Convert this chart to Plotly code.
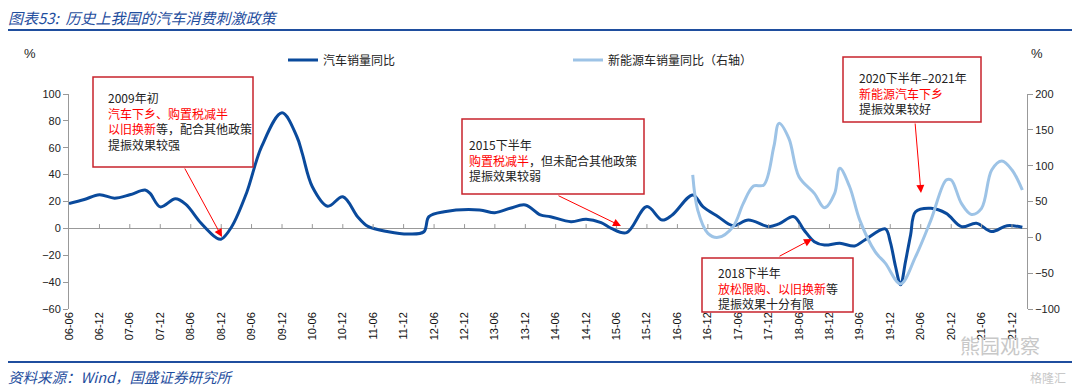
import plotly.graph_objects as go

# ---------------- data ----------------
car_dates = ["2006-06", "2006-09", "2006-12", "2007-03", "2007-06", "2007-09", "2007-10", "2007-12",
             "2008-03", "2008-05", "2008-08", "2008-11", "2008-12", "2009-02", "2009-05", "2009-08",
             "2009-12", "2010-03", "2010-04", "2010-06", "2010-09", "2010-12", "2011-03", "2011-05",
             "2011-09", "2012-01", "2012-04", "2012-05", "2012-08", "2013-03", "2013-06", "2013-09",
             "2013-12", "2014-03", "2014-05", "2014-09", "2014-12", "2015-03", "2015-05", "2015-08",
             "2015-12", "2016-03", "2016-05", "2016-09", "2016-11", "2017-02", "2017-05", "2017-08",
             "2017-12", "2018-02", "2018-05", "2018-07", "2018-09", "2018-11", "2019-02", "2019-05",
             "2019-07", "2019-11", "2019-12", "2020-01", "2020-02", "2020-03", "2020-04", "2020-05",
             "2020-08", "2020-11", "2021-02", "2021-05", "2021-08", "2021-11", "2022-02"]
car_yoy = [18.5, 21.5, 25, 22.5, 25, 28.5, 26, 16,
           22, 18, 4, -7, -8, 1, 26, 61,
           86, 68, 56, 31, 16.5, 23.5, 8.5, 1.5,
           -2.5, -4.2, -2.5, 8.7, 12.4, 13.7, 11.7, 15,
           17.4, 10, 8.7, 5, 6.8, 4.3, 0, -3.2,
           16.2, 6.2, 10, 24.9, 16.2, 8.7, 2, 6.2,
           1.3, 3.3, 8.7, -1.2, -9.9, -12.4, -11.1, -13.1,
           -8.6, -0.4, -10, -28, -42, -25, -5, 12.4,
           15, 11.2, 1.3, 3.8, -2.4, 2, 0.8]

nev_dates = ["2016-09", "2016-10", "2016-12", "2017-02", "2017-05", "2017-07", "2017-09", "2017-11",
             "2018-01", "2018-02", "2018-04", "2018-06", "2018-09", "2018-11", "2019-01", "2019-02",
             "2019-04", "2019-06", "2019-09", "2019-11", "2020-02", "2020-05", "2020-08", "2020-11",
             "2020-12", "2021-02", "2021-04", "2021-06", "2021-08", "2021-10", "2021-12", "2022-02"]
nev_yoy = [87, 38, 5.6, 0, 14.8, 47, 71.6, 73,
           126.5, 159, 138, 84.6, 61.4, 41.3, 61.4, 96.3,
           70.6, 24, -20, -36, -65, -27, 24, 80,
           80, 47, 32, 40.5, 94, 106.5, 94, 66]

tick_labels = ["06-06", "06-12", "07-06", "07-12", "08-06", "08-12", "09-06", "09-12",
               "10-06", "10-12", "11-06", "11-12", "12-06", "12-12", "13-06", "13-12",
               "14-06", "14-12", "15-06", "15-12", "16-06", "16-12", "17-06", "17-12",
               "18-06", "18-12", "19-06", "19-12", "20-06", "20-12", "21-06", "21-12"]

series_names = ["汽车销量同比", "新能源车销量同比（右轴）"]

# ---------------- layout helpers (page pixel coordinates) ----------------
W, H = 1080, 391
OFF = 8  # default body margin of the html page
L, R, T, B = 69, 1027, 94, 309


def px_x(px):
    return (px - L) / (R - L)


def px_y(py):
    return (B - py) / (B - T)


tick_vals = ["20" + t + "-01" for t in tick_labels]

DARK = "#0A4A9C"
LIGHT = "#9DC3E6"
RED = "#FF0000"
BOX = "#C8232C"
TXT = "#222222"
CJK = "Noto Sans CJK SC"

fig = go.Figure()
fig.add_trace(go.Scatter(x=nev_dates, y=nev_yoy, name=series_names[1], yaxis="y2",
                         mode="lines", line=dict(color=LIGHT, width=3, shape="spline", smoothing=1.0),
                         legendrank=2))
fig.add_trace(go.Scatter(x=car_dates, y=car_yoy, name=series_names[0], yaxis="y",
                         mode="lines", line=dict(color=DARK, width=3, shape="spline", smoothing=1.0),
                         legendrank=1))

shapes = []
# small tick marks on the zero line
for tv in tick_vals[1:]:
    shapes.append(dict(type="line", xref="x", yref="y", x0=tv, x1=tv, y0=0, y1=3.2,
                       line=dict(color="#999999", width=1)))
# title rules
shapes.append(dict(type="line", xref="paper", yref="paper", x0=px_x(0), x1=px_x(1080),
                   y0=px_y(30), y1=px_y(30), line=dict(color="#1F4E9E", width=2)))
shapes.append(dict(type="line", xref="paper", yref="paper", x0=px_x(0), x1=px_x(1080),
                   y0=px_y(362), y1=px_y(362), line=dict(color="#1F4E9E", width=2)))
# annotation boxes
boxes = [(93, 77, 253, 167), (462, 119, 644, 194), (702, 258, 853, 312), (843, 57, 981, 122)]
for x0, y0, x1, y1 in boxes:
    shapes.append(dict(type="rect", xref="paper", yref="paper", x0=px_x(x0), x1=px_x(x1),
                       y0=px_y(y0), y1=px_y(y1), line=dict(color=BOX, width=1.5), fillcolor="white",
                       layer="above"))

annotations = []


def red(s):
    return "<span style='color:%s'>%s</span>" % (RED, s)


box_texts = [
    (106, 87, "2009年初<br>" + red("汽车下乡、购置税减半") + "<br>" + red("以旧换新") + "等，配合其他政策<br>提振效果较强"),
    (467, 134, "2015下半年<br>" + red("购置税减半") + "，但未配合其他政策<br>提振效果较弱"),
    (716, 262, "2018下半年<br>" + red("放松限购、以旧换新") + "等<br>提振效果十分有限"),
    (857, 67, "2020下半年–2021年<br>" + red("新能源汽车下乡") + "<br>提振效果较好"),
]
for x, y, t in box_texts:
    annotations.append(dict(xref="paper", yref="paper", x=px_x(x), y=px_y(y), xanchor="left",
                            yanchor="top", align="left", showarrow=False, text=t,
                            font=dict(family=CJK, size=12, color=TXT)))

arrows = [((184, 167), (222, 237)), ((557, 195), (621, 226)), ((778, 257), (812, 239)),
          ((915, 122), (921, 193))]
for (tx, ty), (hx, hy) in arrows:
    annotations.append(dict(xref="paper", yref="paper", x=px_x(hx), y=px_y(hy), ax=tx - hx, ay=ty - hy,
                            axref="pixel", ayref="pixel", text="", showarrow=True, arrowhead=2,
                            arrowsize=1.6, arrowwidth=1, arrowcolor=RED))

# titles / units / source
annotations += [
    dict(xref="paper", yref="paper", x=px_x(6), y=px_y(18), xanchor="left", yanchor="middle",
         text="<i>图表53:  历史上我国的汽车消费刺激政策</i>", showarrow=False,
         font=dict(family=CJK, size=15, color="#1F4E9E")),
    dict(xref="paper", yref="paper", x=px_x(6), y=px_y(376), xanchor="left", yanchor="middle",
         text="<i>资料来源：Wind，国盛证券研究所</i>", showarrow=False,
         font=dict(family=CJK, size=14.5, color="#1F4E9E")),
    dict(xref="paper", yref="paper", x=px_x(30), y=px_y(53), xanchor="center", yanchor="middle",
         text="%", showarrow=False, font=dict(family="Liberation Sans", size=13, color=TXT)),
    dict(xref="paper", yref="paper", x=px_x(1037), y=px_y(53), xanchor="center", yanchor="middle",
         text="%", showarrow=False, font=dict(family="Liberation Sans", size=13, color=TXT)),
    dict(xref="paper", yref="paper", x=px_x(1000), y=px_y(345), xanchor="center", yanchor="middle",
         text="熊园观察", showarrow=False, font=dict(family=CJK, size=20, color="#C8C8C8")),
    dict(xref="paper", yref="paper", x=px_x(1048), y=px_y(377), xanchor="center", yanchor="middle",
         text="格隆汇", showarrow=False, font=dict(family=CJK, size=12, color="#C8C8C8")),
]

axis_font = dict(family="Liberation Sans", size=11, color=TXT)

FW, FH = W - OFF, H - OFF
fig.update_layout(
    width=FW, height=FH,
    margin=dict(l=L - OFF, r=FW - (R - OFF), t=T - OFF, b=FH - (B - OFF), pad=0),
    paper_bgcolor="white", plot_bgcolor="white",
    showlegend=True,
    legend=dict(orientation="h", x=px_x(283), y=px_y(60), xanchor="left", yanchor="middle",
                font=dict(family=CJK, size=12, color=TXT), entrywidth=240, entrywidthmode="pixels",
                bgcolor="rgba(0,0,0,0)", itemwidth=30),
    xaxis=dict(type="date", range=["2006-06-01", "2022-03-01"], tickvals=tick_vals, ticktext=tick_labels,
               tickangle=-90, tickfont=dict(family="Liberation Sans", size=11, color="#111111"),
               showgrid=False, showline=False, zeroline=False, ticks=""),
    yaxis=dict(range=[-60, 100], dtick=20, showgrid=False, zeroline=True, zerolinecolor="#999999",
               zerolinewidth=1, showline=True, linecolor="#999999", linewidth=1, ticks="outside",
               ticklen=5, tickcolor="#999999", tickfont=axis_font),
    yaxis2=dict(range=[-100, 200], dtick=50, overlaying="y", side="right", showgrid=False,
                zeroline=False, showline=True, linecolor="#999999", linewidth=1, ticks="outside",
                ticklen=5, tickcolor="#999999", tickfont=axis_font),
    shapes=shapes,
    annotations=annotations,
)

fig.write_html("out.html")
